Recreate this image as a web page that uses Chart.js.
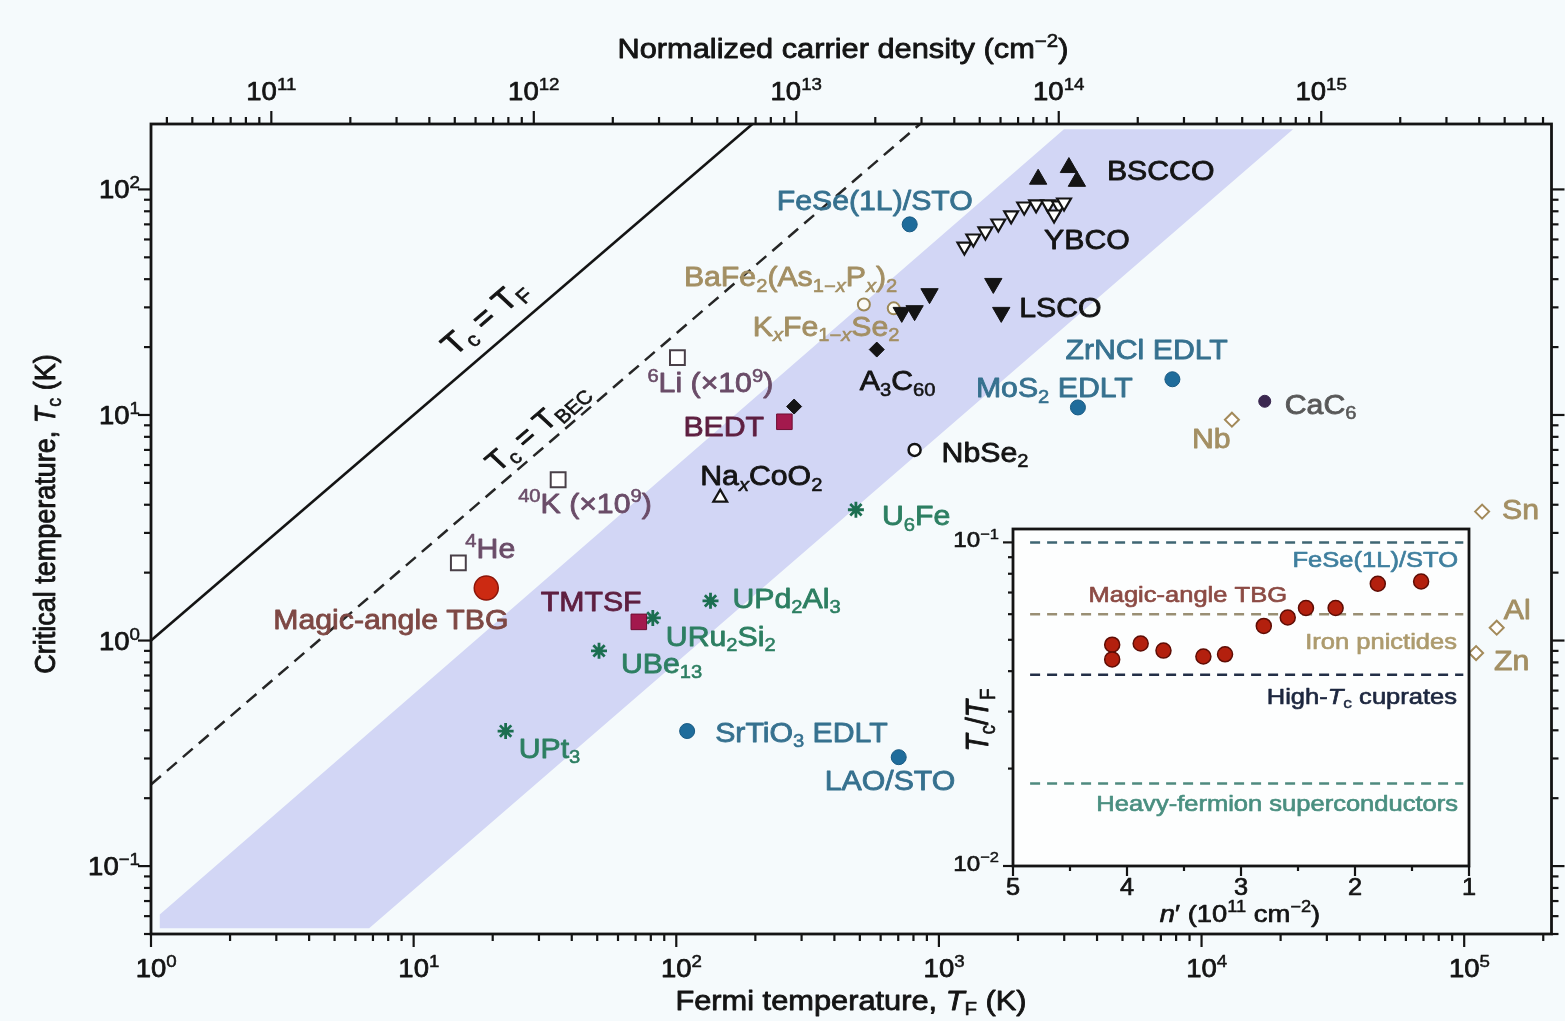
<!DOCTYPE html>
<html>
<head>
<meta charset="utf-8">
<title>Critical temperature versus Fermi temperature</title>
<script src="https://cdn.jsdelivr.net/npm/chart.js@4.4.1/dist/chart.umd.min.js"></script>
<style>
  html, body { margin: 0; padding: 0; background: #f5fafc; }
  #wrap { position: relative; width: 1565px; height: 1021px; overflow: hidden; }
  #main { position: absolute; left: 0; top: 0; }
  #inset { position: absolute; left: 935px; top: 515px; }
</style>
</head>
<body>
<div id="wrap">
  <canvas id="main" width="1565" height="1021"></canvas>
  <canvas id="inset" width="545" height="420"></canvas>
</div>
<script>
// ---------------- data: superconductors on the Tc versus TF plane ----------------
const materialNames = [
  'FeSe(1L)/STO',
  'BSCCO', 'BSCCO', 'BSCCO',
  'YBCO', 'YBCO', 'YBCO', 'YBCO', 'YBCO', 'YBCO', 'YBCO', 'YBCO', 'YBCO', 'YBCO', 'YBCO',
  'LSCO', 'LSCO', 'LSCO', 'LSCO', 'LSCO',
  'BaFe2(As1-xPx)2', 'KxFe1-xSe2',
  'A3C60', 'A3C60',
  '6Li', '40K', '4He',
  'Magic-angle TBG',
  'BEDT', 'TMTSF',
  'NaxCoO2', 'NbSe2',
  'U6Fe', 'UPd2Al3', 'URu2Si2', 'UBe13', 'UPt3',
  'SrTiO3 EDLT', 'LAO/STO', 'MoS2 EDLT', 'ZrNCl EDLT',
  'CaC6',
  'Nb', 'Sn', 'Al', 'Zn'
];
// Fermi temperature T_F (K)
const fermiTemperature = [
  774,
  2387, 3126, 3353,
  1250, 1352, 1503, 1683, 1884, 2112, 2345, 2605, 2866, 2744, 2995,
  921, 808, 722, 1611, 1727,
  518, 673,
  580, 281,
  101, 35.5, 14.8,
  18.9,
  258, 72,
  147, 808,
  483, 135, 81.4, 50.8, 22.4,
  110, 703, 3383, 7745,
  17400,
  13050, 117000, 133000, 111000
];
// critical temperature T_c (K)
const criticalTemperature = [
  70,
  111, 125, 108.6,
  55.8, 60.6, 65.1, 70.6, 76.7, 84.0, 85.8, 85.8, 84.9, 77.4, 87.5,
  34.5, 29.0, 28.5, 38.3, 28.5,
  30.9, 29.7,
  19.5, 10.9,
  17.96, 5.16, 2.21,
  1.71,
  9.33, 1.21,
  4.3, 7.0,
  3.8, 1.5, 1.26, 0.90, 0.397,
  0.397, 0.304, 10.8, 14.4,
  11.5,
  9.53, 3.73, 1.14, 0.88
];

// unconventional-superconductor band (corners, T_F and T_c)
const bandTF = [1.08, 1.08, 6.77, 22300, 2993];
const bandTc = [0.061, 0.053, 0.053, 185, 185];

// reference lines T_c = T_F and T_c = T_BEC
const equalityTF = [1, 200];
const equalityTc = [1, 200];
const becTF = [1, 870];
const becTc = [0.23, 200];

// axis ranges and labelled ticks
const fermiRange = [1, 2.15e5];
const criticalRange = [0.05, 195];
const densityRange = [3.48e10, 7.54e15];
const fermiTicks = [1, 10, 100, 1000, 10000, 100000];
const fermiTickLabels = ['10^{0}', '10^{1}', '10^{2}', '10^{3}', '10^{4}', '10^{5}'];
const criticalTicks = [0.1, 1, 10, 100];
const criticalTickLabels = ['10^{−1}', '10^{0}', '10^{1}', '10^{2}'];
const densityTicks = [1e11, 1e12, 1e13, 1e14, 1e15];
const densityTickLabels = ['10^{11}', '10^{12}', '10^{13}', '10^{14}', '10^{15}'];

// inset: magic-angle TBG, T_c/T_F versus n'
const insetDensity = [4.13, 4.13, 3.88, 3.68, 3.33, 3.14, 2.80, 2.59, 2.43, 2.17, 1.80, 1.42];
const insetRatio = [0.0483, 0.0435, 0.0487, 0.0463, 0.0444, 0.0451, 0.0552, 0.0586, 0.0627, 0.0627, 0.0745, 0.0757];
const insetLevels = [0.1, 0.06, 0.039, 0.018];
const insetDensityRange = [1, 5];
const insetRatioRange = [0.01, 0.11];
const insetDensityTicks = [5, 4, 3, 2, 1];
const insetRatioTicks = [0.1, 0.01];
const insetRatioTickLabels = ['10^{−1}', '10^{−2}'];

// ---------------- styles ----------------
const FONT = '"Liberation Sans", Arial, Helvetica, sans-serif';
const PAGE_BG = '#f5fafc';
const INK = '#141414';
const TEAL = '#36718f';
const TAN = '#a38f63';
const ATOM = '#6a4c68';
const TBG = '#7e4844';
const ORGANIC = '#5e1f40';
const GREEN = '#2d7f62';
const GRAPHITE = '#585858';
const LABEL = { size: 27, stretch: 1.12 };
const TICK = { size: 25, stretch: 1.1 };

const familyOf = {
  'FeSe(1L)/STO': 'interface', 'SrTiO3 EDLT': 'interface', 'LAO/STO': 'interface',
  'MoS2 EDLT': 'interface', 'ZrNCl EDLT': 'interface',
  'BSCCO': 'bscco', 'YBCO': 'ybco', 'LSCO': 'lsco',
  'BaFe2(As1-xPx)2': 'iron', 'KxFe1-xSe2': 'iron',
  'A3C60': 'fulleride',
  '6Li': 'coldAtom', '40K': 'coldAtom', '4He': 'coldAtom',
  'Magic-angle TBG': 'tbg',
  'BEDT': 'organic', 'TMTSF': 'organic',
  'NaxCoO2': 'cobaltate', 'NbSe2': 'dichalcogenide',
  'U6Fe': 'heavyFermion', 'UPd2Al3': 'heavyFermion', 'URu2Si2': 'heavyFermion',
  'UBe13': 'heavyFermion', 'UPt3': 'heavyFermion',
  'CaC6': 'graphite',
  'Nb': 'element', 'Sn': 'element', 'Al': 'element', 'Zn': 'element'
};

const familyStyles = {
  interface:      { shape: 'circle',   r: 7.5,  fill: '#1f6c9b', stroke: '#195a83', lw: 1 },
  bscco:          { shape: 'triangle', r: 10,   fill: INK,       stroke: INK,       lw: 1 },
  ybco:           { shape: 'triangle', r: 8,    rot: 180, fill: '#ffffff', stroke: INK, lw: 2.2 },
  lsco:           { shape: 'triangle', r: 10,   rot: 180, fill: INK, stroke: INK, lw: 1 },
  iron:           { shape: 'circle',   r: 6,    fill: '#fbfbf6', stroke: '#9c8858', lw: 2 },
  fulleride:      { shape: 'rectRot',  r: 7.5,  fill: INK,       stroke: INK,       lw: 1 },
  coldAtom:       { shape: 'rect',     r: 10.5, fill: '#ffffff', stroke: '#4a4048', lw: 2 },
  tbg:            { shape: 'circle',   r: 12,   fill: '#cc2a12', stroke: '#8c160a', lw: 1.5 },
  organic:        { shape: 'rect',     r: 11,   fill: '#a3194d', stroke: '#6e0f33', lw: 1 },
  cobaltate:      { shape: 'triangle', r: 8,    fill: '#ffffff', stroke: INK,       lw: 2.2 },
  dichalcogenide: { shape: 'circle',   r: 6,    fill: '#ffffff', stroke: INK,       lw: 2.5 },
  heavyFermion:   { shape: 'star',     r: 8,    fill: '#1b6e50', stroke: '#1b6e50', lw: 2.8 },
  graphite:       { shape: 'circle',   r: 6,    fill: '#3b2850', stroke: '#3b2850', lw: 1 },
  element:        { shape: 'rectRot',  r: 7,    fill: '#ffffff', stroke: '#a38a5a', lw: 2 }
};

// text of each material tag, and where it sits relative to its marker (px)
const labelStyles = {
  'FeSe(1L)/STO':    { text: 'FeSe(1L)/STO', dx: -133, dy: -24, color: TEAL },
  'BSCCO':           { text: 'BSCCO', at: 2, dx: 30, dy: -11, color: INK },
  'YBCO':            { text: 'YBCO', at: 9, dx: -10, dy: 25, color: INK },
  'LSCO':            { text: 'LSCO', at: 4, dx: 18, dy: -5, color: INK },
  'BaFe2(As1-xPx)2': { text: 'BaFe_{2}(As_{1−*x*}P_{*x*})_{2}', dx: -180, dy: -28, color: TAN },
  'KxFe1-xSe2':      { text: 'K_{*x*}Fe_{1−*x*}Se_{2}', dx: -141, dy: 18, color: TAN },
  'A3C60':           { text: 'A_{3}C_{60}', dx: -17, dy: 31, color: INK },
  '6Li':             { text: '^{6}Li (×10^{9})', dx: -30, dy: 25, color: ATOM },
  '40K':             { text: '^{40}K (×10^{9})', dx: -40, dy: 23, color: ATOM },
  '4He':             { text: '^{4}He', dx: 7, dy: -15, color: ATOM },
  'Magic-angle TBG': { text: 'Magic-angle TBG', dx: -213, dy: 31, color: TBG },
  'BEDT':            { text: 'BEDT', dx: -101, dy: 5, color: ORGANIC },
  'TMTSF':           { text: 'TMTSF', dx: -98, dy: -21, color: ORGANIC },
  'NaxCoO2':         { text: 'Na_{*x*}CoO_{2}', dx: -20, dy: -22, color: INK },
  'NbSe2':           { text: 'NbSe_{2}', dx: 27, dy: 2, color: INK },
  'U6Fe':            { text: 'U_{6}Fe', dx: 26, dy: 6, color: GREEN },
  'UPd2Al3':         { text: 'UPd_{2}Al_{3}', dx: 22, dy: -3, color: GREEN },
  'URu2Si2':         { text: 'URu_{2}Si_{2}', dx: 13, dy: 18, color: GREEN },
  'UBe13':           { text: 'UBe_{13}', dx: 22, dy: 12, color: GREEN },
  'UPt3':            { text: 'UPt_{3}', dx: 13, dy: 17, color: GREEN },
  'SrTiO3 EDLT':     { text: 'SrTiO_{3} EDLT', dx: 28, dy: 1, color: TEAL },
  'LAO/STO':         { text: 'LAO/STO', dx: -74, dy: 23, color: TEAL },
  'MoS2 EDLT':       { text: 'MoS_{2} EDLT', dx: -102, dy: -20, color: TEAL },
  'ZrNCl EDLT':      { text: 'ZrNCl EDLT', dx: -107, dy: -30, color: TEAL },
  'CaC6':            { text: 'CaC_{6}', dx: 20, dy: 3, color: GRAPHITE },
  'Nb':              { text: 'Nb', dx: -40, dy: 19, color: TAN },
  'Sn':              { text: 'Sn', dx: 20, dy: -2, color: TAN },
  'Al':              { text: 'Al', dx: 7, dy: -18, color: TAN },
  'Zn':              { text: 'Zn', dx: 18, dy: 7, color: TAN }
};

// tags written along the two reference lines
const lineNotes = [
  { text: 'T_{c} = T_{F}', xs: equalityTF, ys: equalityTc, atTF: 21.8, offset: 29, size: 30 },
  { text: 'T_{c} = T_{BEC}', xs: becTF, ys: becTc, atTF: 33, offset: 21, size: 28 }
];

// ---------------- rich text (sub/superscripts, *italic*) ----------------
function parseRich(src) {
  const runs = [];
  let italic = false, buf = '', i = 0;
  const push = (t, mode, it) => { if (t) runs.push({ t, mode, it }); };
  while (i < src.length) {
    const c = src[i];
    if ((c === '_' || c === '^') && src[i + 1] === '{') {
      push(buf, 'base', italic); buf = '';
      const end = src.indexOf('}', i + 2);
      const mode = c === '_' ? 'sub' : 'sup';
      let it = italic, part = '';
      for (const ch of src.slice(i + 2, end)) {
        if (ch === '*') { push(part, mode, it); part = ''; it = !it; }
        else part += ch;
      }
      push(part, mode, it);
      i = end + 1;
      continue;
    }
    if (c === '*') { push(buf, 'base', italic); buf = ''; italic = !italic; i++; continue; }
    buf += c; i++;
  }
  push(buf, 'base', italic);
  return runs;
}

function drawRich(ctx, src, x, y, o) {
  const size = o.size, stretch = o.stretch || 1;
  const runs = parseRich(src);
  const fontFor = r => `${r.it ? 'italic ' : ''}${o.weight || 'normal'} ${r.mode === 'base' ? size : Math.round(size * 0.68)}px ${FONT}`;
  ctx.save();
  const widths = [];
  let width = 0;
  for (const r of runs) { ctx.font = fontFor(r); const w = ctx.measureText(r.t).width; widths.push(w); width += w; }
  ctx.translate(x, y);
  ctx.scale(stretch, 1);
  if (o.angle) ctx.rotate(Math.atan2(Math.sin(o.angle) * stretch, Math.cos(o.angle)));
  let cx = 0;
  if (o.align === 'center') cx = -width / 2;
  else if (o.align === 'right') cx = -width;
  else if (o.align === 'baseCenter') cx = -widths[0] / 2;
  const color = o.color || INK;
  ctx.fillStyle = color;
  ctx.strokeStyle = color;
  ctx.lineJoin = 'round';
  ctx.textAlign = 'left';
  ctx.textBaseline = 'alphabetic';
  const base = size * 0.36;
  runs.forEach((r, k) => {
    ctx.font = fontFor(r);
    let dy = base;
    if (r.mode === 'sup') dy -= size * 0.40;
    if (r.mode === 'sub') dy += size * 0.20;
    ctx.fillText(r.t, cx, dy);
    // a light outline gives the heavier print weight of the figure lettering
    ctx.lineWidth = (r.mode === 'base' ? size : size * 0.68) * 0.03;
    ctx.strokeText(r.t, cx, dy);
    cx += widths[k];
  });
  ctx.restore();
}

// decade and sub-decade tick positions inside a log range
function logTickMarks(min, max) {
  const out = [];
  for (let e = Math.floor(Math.log10(min)); e <= Math.ceil(Math.log10(max)); e++) {
    for (let m = 1; m <= 9; m++) {
      const v = m * Math.pow(10, e);
      if (v >= min * 0.9999 && v <= max * 1.0001) out.push({ v, major: m === 1 });
    }
  }
  return out;
}

function segment(ctx, x1, y1, x2, y2) {
  ctx.beginPath(); ctx.moveTo(x1, y1); ctx.lineTo(x2, y2); ctx.stroke();
}

// ---------------- main chart ----------------
const pointsOf = idx => idx.map(i => ({ x: fermiTemperature[i], y: criticalTemperature[i] }));
const pairUp = (xs, ys) => xs.map((x, i) => ({ x, y: ys[i] }));

const markerSets = Object.entries(familyStyles).map(([fam, st]) => {
  const idx = materialNames.map((n, i) => (familyOf[n] === fam ? i : -1)).filter(i => i >= 0);
  return {
    type: 'scatter',
    label: fam,
    data: pointsOf(idx),
    pointStyle: st.shape,
    pointRadius: st.r,
    pointRotation: st.rot || 0,
    pointBackgroundColor: st.fill,
    pointBorderColor: st.stroke,
    pointBorderWidth: st.lw,
    showLine: false,
    order: 0
  };
});

const mainDatasets = [
  ...markerSets,
  {
    type: 'line', label: 'Tc = TF', data: pairUp(equalityTF, equalityTc),
    borderColor: INK, borderWidth: 2.6, pointRadius: 0, fill: false, tension: 0, order: 5
  },
  {
    type: 'line', label: 'Tc = TBEC', data: pairUp(becTF, becTc),
    borderColor: '#262626', borderWidth: 2.5, borderDash: [13, 8], pointRadius: 0, fill: false, tension: 0, order: 5
  },
  {
    type: 'line', label: 'band', data: pairUp(bandTF, bandTc),
    borderWidth: 0, borderColor: 'rgba(0,0,0,0)', backgroundColor: '#d2d6f5',
    pointRadius: 0, fill: 'shape', tension: 0, order: 10
  }
];

function occurrence(name, k) {
  let seen = 0;
  for (let i = 0; i < materialNames.length; i++) {
    if (materialNames[i] === name) { if (seen === k) return i; seen++; }
  }
  return -1;
}

function drawMaterialLabels(chart) {
  const { ctx } = chart; const xs = chart.scales.x, ys = chart.scales.y;
  for (const [name, st] of Object.entries(labelStyles)) {
    const i = occurrence(name, st.at || 0);
    if (i < 0) continue;
    const px = xs.getPixelForValue(fermiTemperature[i]);
    const py = ys.getPixelForValue(criticalTemperature[i]);
    drawRich(ctx, st.text, px + st.dx, py + st.dy, { size: LABEL.size, stretch: LABEL.stretch, color: st.color, align: 'left' });
  }
}

function drawLineNotes(chart) {
  const { ctx } = chart; const xs = chart.scales.x, ys = chart.scales.y;
  for (const n of lineNotes) {
    const x1 = xs.getPixelForValue(n.xs[0]), y1 = ys.getPixelForValue(n.ys[0]);
    const x2 = xs.getPixelForValue(n.xs[1]), y2 = ys.getPixelForValue(n.ys[1]);
    const ang = Math.atan2(y2 - y1, x2 - x1);
    const px = xs.getPixelForValue(n.atTF);
    const t = (px - x1) / (x2 - x1);
    const py = y1 + t * (y2 - y1);
    const cx = px + Math.sin(ang) * n.offset;
    const cy = py - Math.cos(ang) * n.offset;
    drawRich(ctx, n.text, cx, cy, { size: n.size, stretch: LABEL.stretch, color: INK, align: 'center', angle: ang });
  }
}

function drawMainAxes(chart) {
  const { ctx, chartArea: a } = chart;
  const xs = chart.scales.x, ys = chart.scales.y, ds = chart.scales.density;
  ctx.save();
  ctx.strokeStyle = INK;
  ctx.lineCap = 'butt';
  ctx.lineWidth = 2.2;
  for (const t of logTickMarks(fermiRange[0], fermiRange[1])) {
    const p = xs.getPixelForValue(t.v);
    segment(ctx, p, a.bottom, p, a.bottom + (t.major ? 13 : 7));
  }
  for (const t of logTickMarks(densityRange[0], densityRange[1])) {
    const p = ds.getPixelForValue(t.v);
    segment(ctx, p, a.top, p, a.top - (t.major ? 13 : 7));
  }
  for (const t of logTickMarks(criticalRange[0], criticalRange[1])) {
    const p = ys.getPixelForValue(t.v);
    const L = t.major ? 13 : 7;
    segment(ctx, a.left, p, a.left - L, p);
    segment(ctx, a.right, p, a.right + L, p);
  }
  ctx.lineWidth = 2.8;
  ctx.strokeRect(a.left, a.top, a.right - a.left, a.bottom - a.top);
  ctx.restore();

  fermiTicks.forEach((v, i) => drawRich(ctx, fermiTickLabels[i], xs.getPixelForValue(v), a.bottom + 34,
    { size: TICK.size, stretch: TICK.stretch, align: 'baseCenter' }));
  densityTicks.forEach((v, i) => drawRich(ctx, densityTickLabels[i], ds.getPixelForValue(v), a.top - 33,
    { size: TICK.size, stretch: TICK.stretch, align: 'center' }));
  criticalTicks.forEach((v, i) => drawRich(ctx, criticalTickLabels[i], a.left - 11, ys.getPixelForValue(v),
    { size: TICK.size, stretch: TICK.stretch, align: 'right' }));

  drawRich(ctx, 'Normalized carrier density (cm^{−2})', 843, 48, { size: 27, stretch: 1.14, align: 'center' });
  drawRich(ctx, 'Fermi temperature, *T*_{F} (K)', 851, 1000, { size: 27, stretch: 1.14, align: 'center' });
  drawRich(ctx, 'Critical temperature, *T*_{c} (K)', 44, 514, { size: 27, stretch: 1.12, align: 'center', angle: -Math.PI / 2 });
}

const mainDecor = {
  id: 'mainDecor',
  beforeDraw(chart) {
    const { ctx, width, height } = chart;
    ctx.save(); ctx.fillStyle = PAGE_BG; ctx.fillRect(0, 0, width, height); ctx.restore();
  },
  afterDatasetsDraw(chart) { drawLineNotes(chart); drawMaterialLabels(chart); },
  afterDraw(chart) { drawMainAxes(chart); }
};

new Chart(document.getElementById('main'), {
  type: 'scatter',
  data: { datasets: mainDatasets },
  options: {
    responsive: false,
    devicePixelRatio: 1,
    animation: false,
    events: [],
    layout: { padding: { left: 151, right: 7, top: 124, bottom: 87 } },
    scales: {
      x: { type: 'logarithmic', display: false, min: fermiRange[0], max: fermiRange[1] },
      y: { type: 'logarithmic', display: false, min: criticalRange[0], max: criticalRange[1] },
      density: { type: 'logarithmic', axis: 'x', position: 'top', display: false, min: densityRange[0], max: densityRange[1] }
    },
    plugins: { legend: { display: false }, tooltip: { enabled: false } }
  },
  plugins: [mainDecor]
});

// ---------------- inset: T_c/T_F of magic-angle TBG ----------------
const insetLevelColors = ['#3f6673', '#9a8f74', '#232f47', '#4f8a7f'];
const insetLineSpan = [4.85, 1.05];
const insetNotes = [
  { text: 'FeSe(1L)/STO', level: 0, dy: 17, right: 11, color: '#3f7f9e' },
  { text: 'Magic-angle TBG', level: 1, dy: -20, right: 182, color: '#8c4b44' },
  { text: 'Iron pnictides', level: 1, dy: 27, right: 12, color: '#ad9b6e' },
  { text: 'High-*T*_{c} cuprates', level: 2, dy: 21, right: 12, color: '#1d273f' },
  { text: 'Heavy-fermion superconductors', level: 3, dy: 20, right: 11, color: '#4a8f80' }
];
const INSET_TEXT = { size: 22, stretch: 1.16 };

const insetDecor = {
  id: 'insetDecor',
  beforeDraw(chart) {
    const { ctx, chartArea: a } = chart;
    ctx.save(); ctx.fillStyle = '#fdfefe'; ctx.fillRect(a.left, a.top, a.right - a.left, a.bottom - a.top); ctx.restore();
  },
  beforeDatasetsDraw(chart) {
    const { ctx, chartArea: a } = chart; const ys = chart.scales.y;
    for (const n of insetNotes) {
      drawRich(ctx, n.text, a.right - n.right, ys.getPixelForValue(insetLevels[n.level]) + n.dy,
        { size: INSET_TEXT.size, stretch: INSET_TEXT.stretch, color: n.color, align: 'right' });
    }
  },
  afterDraw(chart) {
    const { ctx, chartArea: a } = chart; const xs = chart.scales.x, ys = chart.scales.y;
    ctx.save();
    ctx.strokeStyle = INK;
    ctx.lineWidth = 2.2;
    for (const t of logTickMarks(insetRatioRange[0], insetRatioRange[1])) {
      const p = ys.getPixelForValue(t.v);
      segment(ctx, a.left, p, a.left - (t.major ? 10 : 5), p);
    }
    for (let k = 0; k <= 8; k++) {
      const v = insetDensityRange[0] + k * 0.5;
      const p = xs.getPixelForValue(v);
      segment(ctx, p, a.bottom, p, a.bottom + (k % 2 === 0 ? 10 : 5));
    }
    ctx.lineWidth = 2.8;
    ctx.strokeRect(a.left, a.top, a.right - a.left, a.bottom - a.top);
    ctx.restore();
    insetRatioTicks.forEach((v, i) => drawRich(ctx, insetRatioTickLabels[i], a.left - 14, ys.getPixelForValue(v) - 3,
      { size: 22, stretch: 1.1, align: 'right' }));
    insetDensityTicks.forEach(v => drawRich(ctx, String(v), xs.getPixelForValue(v), a.bottom + 21,
      { size: 23, stretch: 1.1, align: 'center' }));
    drawRich(ctx, '*n*′ (10^{11} cm^{−2})', 305, 398, { size: 24, stretch: 1.14, align: 'center' });
    drawRich(ctx, '*T*_{c}/*T*_{F}', 42, 205, { size: 28, stretch: 1.12, align: 'center', angle: -Math.PI / 2 });
  }
};

new Chart(document.getElementById('inset'), {
  type: 'scatter',
  data: {
    datasets: [
      {
        type: 'scatter', label: 'Magic-angle TBG',
        data: insetDensity.map((x, i) => ({ x, y: insetRatio[i] })),
        pointRadius: 7.5, pointBackgroundColor: '#b3200e', pointBorderColor: '#5e0d05', pointBorderWidth: 1.5,
        order: 0
      },
      ...insetLevels.map((lv, i) => ({
        type: 'line', label: 'level ' + i,
        data: [{ x: insetLineSpan[0], y: lv }, { x: insetLineSpan[1], y: lv }],
        borderColor: insetLevelColors[i], borderWidth: 2.5, borderDash: [10, 7],
        pointRadius: 0, fill: false, tension: 0, order: 5
      }))
    ]
  },
  options: {
    responsive: false,
    devicePixelRatio: 1,
    animation: false,
    events: [],
    layout: { padding: { left: 78, right: 11, top: 14, bottom: 69 } },
    scales: {
      x: { type: 'linear', display: false, min: insetDensityRange[0], max: insetDensityRange[1], reverse: true },
      y: { type: 'logarithmic', display: false, min: insetRatioRange[0], max: insetRatioRange[1] }
    },
    plugins: { legend: { display: false }, tooltip: { enabled: false } }
  },
  plugins: [insetDecor]
});
</script>
</body>
</html>
